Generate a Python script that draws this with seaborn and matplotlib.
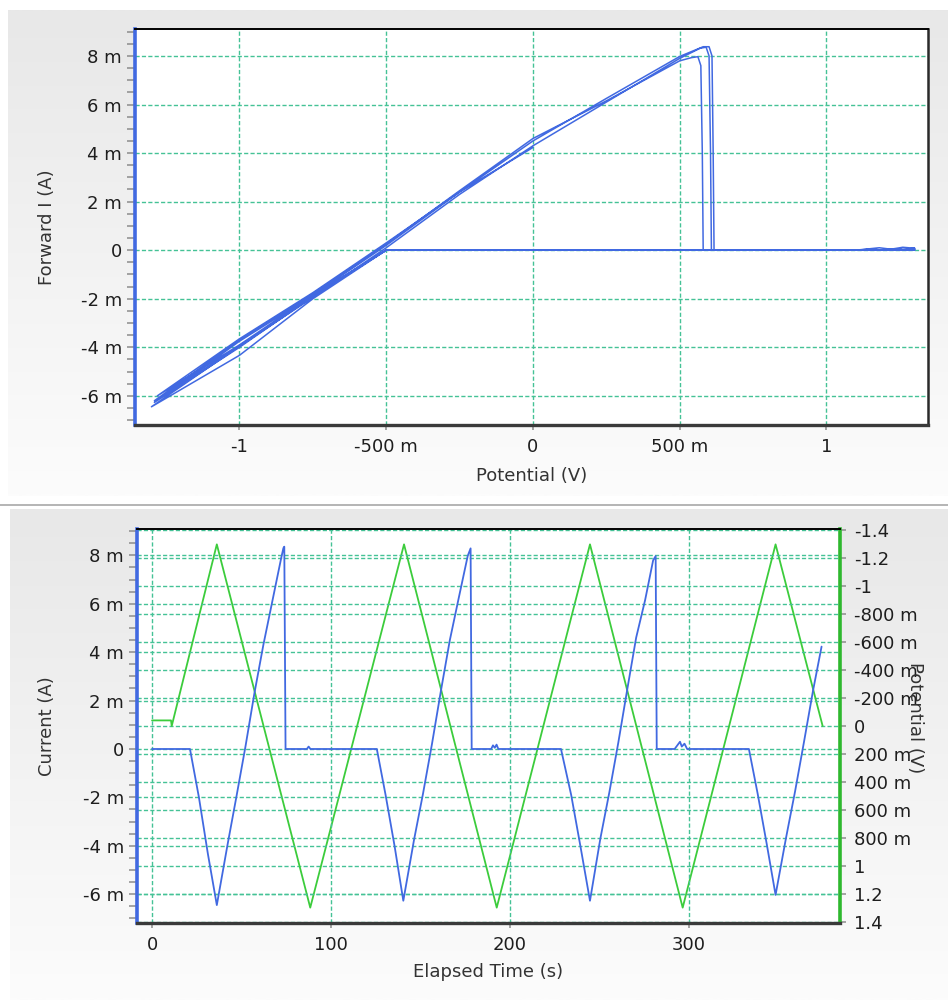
import numpy as np
import pandas as pd
import matplotlib
matplotlib.use("Agg")
import matplotlib.pyplot as plt
import seaborn as sns
from matplotlib.ticker import MultipleLocator
from matplotlib.colors import LinearSegmentedColormap

# ---------------- data ----------------
# Top chart: cyclic voltammogram, potential (V) vs forward current (mA), in drawing order
cv_potential_start = [-0.04, 0.00, -0.50]
cv_current_start = [0.0, 0.0, 0.0]

cv_potential_c1 = [-0.75, -1.00, -1.30, -1.00, -0.75, -0.50, -0.25, 0.00, 0.25, 0.50, 0.57, 0.59, 0.600, 0.605, 0.608,
                   1.10, 1.14, 1.18, 1.22, 1.26, 1.30, 1.30, -0.50]
cv_current_c1 = [-2.00, -4.33, -6.45, -3.95, -1.95, 0.10, 2.30, 4.30, 6.10, 7.90, 8.32, 8.36, 8.00, 4.00, 0.00,
                 0.00, 0.02, 0.00, 0.04, 0.02, 0.06, 0.00, 0.00]

cv_potential_c2 = [-0.75, -1.00, -1.29, -1.00, -0.75, -0.50, -0.25, 0.00, 0.25, 0.50, 0.58, 0.60, 0.610, 0.614, 0.617,
                   1.10, 1.15, 1.19, 1.23, 1.27, 1.30, 1.30, -0.50]
cv_current_c2 = [-1.90, -4.00, -6.27, -3.75, -1.85, 0.20, 2.40, 4.50, 6.25, 7.98, 8.38, 8.38, 8.00, 4.00, 0.00,
                 0.00, 0.04, 0.01, 0.06, 0.03, 0.09, 0.00, 0.00]

cv_potential_c3 = [-0.75, -1.00, -1.29, -1.00, -0.75, -0.50, -0.25, 0.00, 0.25, 0.50, 0.54, 0.562, 0.572, 0.577, 0.580,
                   1.10, 1.14, 1.18, 1.22, 1.26, 1.30, 1.30, -0.50]
cv_current_c3 = [-1.90, -3.95, -6.20, -3.70, -1.80, 0.25, 2.45, 4.60, 6.15, 7.80, 7.93, 7.97, 7.60, 4.00, 0.00,
                 0.00, 0.05, 0.10, 0.04, 0.12, 0.08, 0.00, 0.00]

cv_potential_c4 = [-0.75, -1.00, -1.28, -1.00, -0.75, -0.50, -0.25, 0.00]
cv_current_c4 = [-1.85, -3.90, -6.00, -3.65, -1.75, 0.30, 2.40, 4.23]

# Bottom chart: current (mA) vs elapsed time (s)
current_time = [0.0, 21.2, 26.2, 31.2, 36.2, 42.2, 47.2, 52.2, 57.2, 62.2, 67.2, 72.2, 73.4, 73.9, 74.6,
                86.5, 87.5, 88.5, 125.6, 130.5, 135.5, 140.4, 146.4, 151.4, 156.4, 161.4, 166.4, 171.4, 176.4, 178.0, 178.6,
                189.5, 190.5, 191.5, 192.5, 193.5, 228.5, 234.2, 239.2, 244.7, 250.5, 255.5, 260.5, 265.5, 270.5, 275.5,
                280.0, 281.4, 282.0, 292.0, 293.5, 295.0, 296.0, 297.5, 299.0, 333.5, 338.4, 343.4, 348.4, 354.3,
                359.3, 364.3, 369.3, 374.1]
current_ma = [0.0, 0.0, -2.0, -4.33, -6.45, -3.95, -1.95, 0.10, 2.30, 4.30, 6.10, 7.90, 8.30, 8.36, 0.0,
              0.0, 0.10, 0.0, 0.0, -1.90, -4.00, -6.27, -3.75, -1.85, 0.20, 2.40, 4.50, 6.25, 7.98, 8.29, 0.0,
              0.0, 0.15, 0.05, 0.18, 0.0, 0.0, -1.90, -3.95, -6.27, -3.70, -1.80, 0.25, 2.45, 4.60, 6.15,
              7.80, 7.97, 0.0, 0.0, 0.15, 0.30, 0.10, 0.22, 0.0, 0.0, -1.85, -3.90, -6.03, -3.65,
              -1.75, 0.30, 2.40, 4.23]

# Bottom chart: applied potential (V, right axis, inverted) vs elapsed time (s)
potential_time = [0.0, 10.6, 11.0, 36.2, 88.4, 140.8, 192.6, 244.7, 296.5, 348.4, 374.7]
potential_v = [-0.04, -0.04, 0.00, -1.30, 1.30, -1.30, 1.30, -1.30, 1.30, -1.30, 0.00]

# ticks
top_xticks = [-1.0, -0.5, 0.0, 0.5, 1.0]
top_xticklabels = ["-1", "-500 m", "0", "500 m", "1"]
current_ticks = [-6, -4, -2, 0, 2, 4, 6, 8]
current_ticklabels = ["-6 m", "-4 m", "-2 m", "0", "2 m", "4 m", "6 m", "8 m"]
time_ticks = [0, 100, 200, 300]
time_ticklabels = ["0", "100", "200", "300"]
pot_ticks = [-1.4, -1.2, -1.0, -0.8, -0.6, -0.4, -0.2, 0.0, 0.2, 0.4, 0.6, 0.8, 1.0, 1.2, 1.4]
pot_ticklabels = ["-1.4", "-1.2", "-1", "-800 m", "-600 m", "-400 m", "-200 m", "0",
                  "200 m", "400 m", "600 m", "800 m", "1", "1.2", "1.4"]

# ---------------- style ----------------
BLUE = "#4169e1"
GREEN = "#3ccc3c"
GREEN_SPINE = "#2eb82e"
GRID = "#45c296"
TICK = "#8c8c8c"
TXT = "#1e1e1e"
LBL = "#333333"
FS = 13

sns.set_theme(style="white")
plt.rcParams["font.family"] = ["DejaVu Sans"]
plt.rcParams["axes.unicode_minus"] = False

W, H = 948, 1000
fig = plt.figure(figsize=(W / 100, H / 100), dpi=100)
fig.patch.set_facecolor("white")

# axes boxes in pixels (left, top, right, bottom)
TOP_BOX = (135, 29, 928, 425)
BOT_BOX = (137, 529, 840, 923)
TOP_PANEL = (8, 10, W, 496)
BOT_PANEL = (10, 509, W, H)


def box_rect(box):
    l, t, r, b = box
    return [l / W, 1 - b / H, (r - l) / W, (b - t) / H]


# gradient panel backgrounds, drawn as strips around the plotting boxes only
cmap = LinearSegmentedColormap.from_list("g", ["#e8e8e8", "#fcfcfc"])
bg = fig.add_axes([0, 0, 1, 1], zorder=-10)
bg.axis("off")


def grad_strip(panel, x0, x1, y0, y1):
    pl, pt, pr, pb = panel
    f0 = (y0 - pt) / (pb - pt)
    f1 = (y1 - pt) / (pb - pt)
    g = np.linspace(f0, f1, 64).reshape(-1, 1)
    bg.imshow(g, cmap=cmap, vmin=0, vmax=1, aspect="auto", extent=[x0, x1, y1, y0],
              origin="upper", interpolation="bilinear")


for panel, box in ((TOP_PANEL, TOP_BOX), (BOT_PANEL, BOT_BOX)):
    pl, pt, pr, pb = panel
    l, t, r, b = box
    grad_strip(panel, pl, pr, pt, t)      # above the box
    grad_strip(panel, pl, pr, b, pb)      # below the box
    grad_strip(panel, pl, l, t, b)        # left of the box
    grad_strip(panel, r, pr, t, b)        # right of the box
bg.plot([0, W], [504.5, 504.5], color="#a8a8a8", lw=1.2)
bg.set_xlim(0, W)
bg.set_ylim(H, 0)


def style_left(ax):
    ax.set_facecolor("white")
    ax.spines["left"].set_color(BLUE)
    ax.spines["left"].set_linewidth(2.6)
    ax.spines["top"].set_color("black")
    ax.spines["top"].set_linewidth(1.4)
    ax.spines["bottom"].set_color("#3a3a3a")
    ax.spines["bottom"].set_linewidth(2.4)
    ax.yaxis.set_minor_locator(MultipleLocator(0.5))
    ax.tick_params(axis="y", which="both", direction="out", color=TICK, length=5.5, width=1.1,
                   labelsize=FS, labelcolor=TXT, pad=4, left=True)
    ax.tick_params(axis="x", which="major", direction="out", color=TICK, length=3.5, width=1.1,
                   labelsize=FS, labelcolor=TXT, pad=6, bottom=True)
    ax.tick_params(axis="x", which="minor", bottom=False)
    ax.grid(True, which="major", color=GRID, ls=(0, (3, 1.6)), lw=1.0)
    ax.set_axisbelow(True)


# ---------------- top chart ----------------
ax1 = fig.add_axes(box_rect(TOP_BOX), zorder=1)
cv_df = pd.DataFrame({
    "potential": cv_potential_start + cv_potential_c1 + cv_potential_c2 + cv_potential_c3 + cv_potential_c4,
    "current": cv_current_start + cv_current_c1 + cv_current_c2 + cv_current_c3 + cv_current_c4,
})
sns.lineplot(data=cv_df, x="potential", y="current", sort=False, estimator=None,
             color=BLUE, lw=1.1, ax=ax1)
style_left(ax1)
ax1.spines["right"].set_color("#2a2a2a")
ax1.spines["right"].set_linewidth(1.8)
ax1.set_xlim(-1.356, 1.346)
ax1.set_ylim(-7.2, 9.11)
ax1.set_xticks(top_xticks)
ax1.set_xticklabels(top_xticklabels)
ax1.set_yticks(current_ticks)
ax1.set_yticklabels(current_ticklabels)
ax1.set_xlabel("Potential (V)", fontsize=FS, color=LBL, va="center")
ax1.set_ylabel("Forward I (A)", fontsize=FS, color=LBL, va="center")
ax1.xaxis.set_label_coords(0.5, (425 - 476) / 396)
ax1.yaxis.set_label_coords((47 - 135) / 793, 0.5)

# ---------------- bottom chart: potential (right axis, underneath) ----------------
ax4 = fig.add_axes(box_rect(BOT_BOX), zorder=1)
ax4.set_facecolor("white")
pot_df = pd.DataFrame({"time": potential_time, "potential": potential_v})
sns.lineplot(data=pot_df, x="time", y="potential", sort=False, estimator=None,
             color=GREEN, lw=1.3, ax=ax4)
ax4.set_xlim(-8.4, 384.4)
ax4.set_ylim(1.41, -1.41)
ax4.yaxis.tick_right()
ax4.yaxis.set_label_position("right")
ax4.set_yticks(pot_ticks)
ax4.set_yticklabels(pot_ticklabels)
ax4.set_xticks([])
ax4.set_xlabel("")
ax4.grid(True, axis="y", which="major", color=GRID, ls=(0, (3, 1.6)), lw=1.0)
ax4.set_axisbelow(True)
for s in ["left", "top", "bottom"]:
    ax4.spines[s].set_visible(False)
ax4.spines["right"].set_color(GREEN_SPINE)
ax4.spines["right"].set_linewidth(2.6)
ax4.tick_params(axis="y", which="major", direction="out", color=TICK, length=4, width=1.1,
                labelsize=FS, labelcolor=TXT, pad=6, right=True, left=False,
                labelright=True, labelleft=False)
ax4.set_ylabel("Potential (V)", fontsize=FS, color=LBL, rotation=270, va="center", ha="center")
ax4.yaxis.set_label_coords((915 - 137) / 703, (923 - 718) / 394)

# ---------------- bottom chart: current (left axis, on top) ----------------
ax3 = fig.add_axes(box_rect(BOT_BOX), zorder=2)
cur_df = pd.DataFrame({"time": current_time, "current": current_ma})
sns.lineplot(data=cur_df, x="time", y="current", sort=False, estimator=None,
             color=BLUE, lw=1.3, ax=ax3)
style_left(ax3)
ax3.patch.set_visible(False)
ax3.spines["right"].set_visible(False)
ax3.set_xlim(-8.4, 384.4)
ax3.set_ylim(-7.19, 9.09)
ax3.set_xticks(time_ticks)
ax3.set_xticklabels(time_ticklabels)
ax3.set_yticks(current_ticks)
ax3.set_yticklabels(current_ticklabels)
ax3.set_xlabel("Elapsed Time (s)", fontsize=FS, color=LBL, va="center")
ax3.set_ylabel("Current (A)", fontsize=FS, color=LBL, va="center")
ax3.xaxis.set_label_coords(0.5, (923 - 972) / 394)
ax3.yaxis.set_label_coords((47 - 137) / 703, 0.5)

fig.savefig("out.png", dpi=100, facecolor="white")
